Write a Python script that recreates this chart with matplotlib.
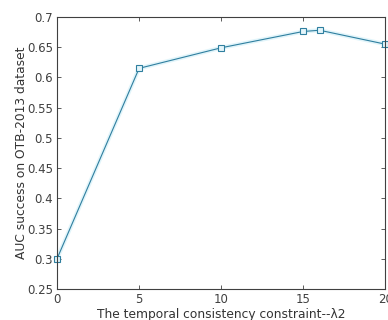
import matplotlib
matplotlib.use("Agg")
import matplotlib.pyplot as plt

lam2 = [0, 5, 10, 15, 16, 20]
auc = [0.300, 0.615, 0.649, 0.676, 0.678, 0.655]
xticks = [0, 5, 10, 15, 20]
yticks = [0.25, 0.3, 0.35, 0.4, 0.45, 0.5, 0.55, 0.6, 0.65, 0.7]

fig = plt.figure(figsize=(3.88, 3.2), dpi=100)
ax = fig.add_axes([0.147, 0.097, 0.846, 0.85])
ax.plot(lam2, auc, color='#cdeef7', lw=3.0, alpha=0.6, zorder=1)
ax.plot(lam2, auc, color='#2f7f9f', lw=0.8, marker='s', ms=3.8,
        mfc='#e4f5fa', mec='#2f7f9f', mew=0.8, zorder=2, clip_on=False)
ax.set_xlim(0, 20)
ax.set_ylim(0.25, 0.7)
ax.set_xticks(xticks)
ax.set_xticklabels([str(t) for t in xticks])
ax.set_yticks(yticks)
ax.set_yticklabels(['0.25', '0.3', '0.35', '0.4', '0.45', '0.5', '0.55', '0.6', '0.65', '0.7'])
ax.tick_params(direction='in', top=True, right=True, length=3, width=0.6,
               labelsize=8.5, colors='#404040', labelcolor='#404040', pad=3)
for s in ax.spines.values():
    s.set_color('#404040')
    s.set_linewidth(0.8)
ax.set_xlabel('The temporal consistency constraint--λ2', fontsize=8.8, color='#333333', labelpad=1)
ax.set_ylabel('AUC success on OTB-2013 dataset', fontsize=8.8, color='#333333', labelpad=-1)
fig.savefig('out.png', dpi=100)
